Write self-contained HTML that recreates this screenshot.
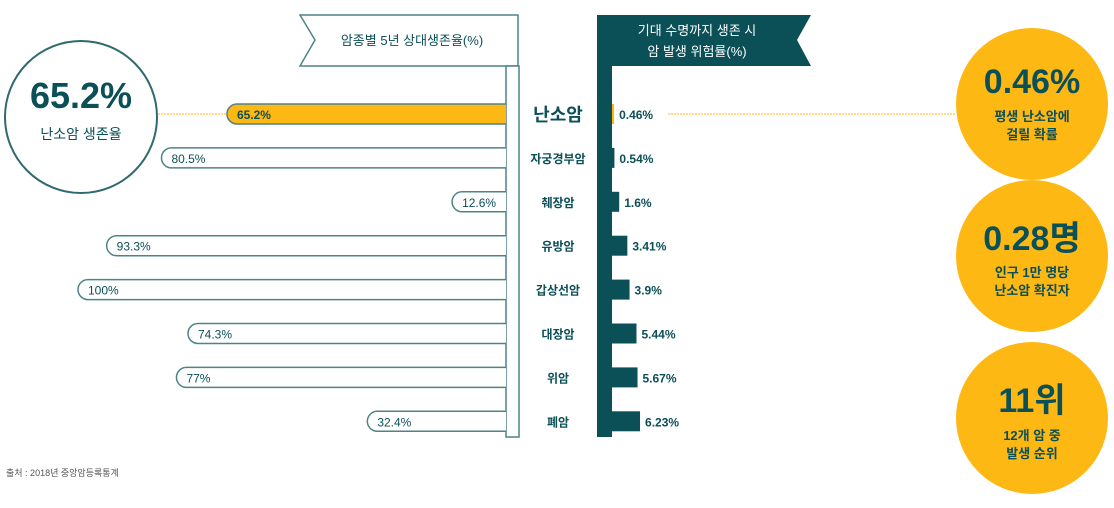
<!DOCTYPE html>
<html><head><meta charset="utf-8">
<style>
body{margin:0;background:#fff;width:1114px;height:503px;overflow:hidden;font-family:"Liberation Sans","Noto Sans CJK KR",sans-serif;}
svg text{font-family:"Liberation Sans","Noto Sans CJK KR",sans-serif;}
</style></head><body>
<svg id="chart" width="1114" height="503" viewBox="0 0 1114 503">
  <g>
    <circle cx="81" cy="117" r="76" fill="#fff" stroke="#2f6a70" stroke-width="2"/>
    <text x="81" y="108" text-anchor="middle" font-size="36" font-weight="bold" fill="#0b4f57">65.2%</text>
    <text x="81" y="139" text-anchor="middle" font-size="14" fill="#0b4f57">난소암 생존율</text>
  </g>
  <line x1="158" y1="114" x2="228" y2="114" stroke="#fdb813" stroke-width="1" stroke-dasharray="2,1"/>
  <g>
    <polygon points="300,15 518,15 518,66 300,66 315,40" fill="#fff" stroke="#4e8388" stroke-width="1.5"/>
    <text x="412" y="45" text-anchor="middle" font-size="13" fill="#0b4f57">암종별 5년 상대생존율(%)</text>
  </g>
  <rect x="506" y="66" width="13" height="371" fill="#fff" stroke="#4e8388" stroke-width="1.5"/>
  <g>
    <polygon points="597,15 811,15 797,40 811,66 597,66" fill="#0b4f57"/>
    <text x="697" y="35" text-anchor="middle" font-size="13" fill="#fff">기대 수명까지 생존 시</text>
    <text x="697" y="56" text-anchor="middle" font-size="13" fill="#fff">암 발생 위험률(%)</text>
  </g>
  <rect x="597" y="66" width="15" height="371" fill="#0b4f57"/>
  <line x1="668" y1="114" x2="955" y2="114" stroke="#fdb813" stroke-width="1" stroke-dasharray="2,1"/>
  <g id="rows"></g>
  <g>
    <circle cx="1032" cy="104" r="76" fill="#fdb813"/>
    <text x="1032" y="93" text-anchor="middle" font-size="34" font-weight="bold" fill="#0b4f57">0.46%</text>
    <text x="1032" y="121" text-anchor="middle" font-size="13" font-weight="bold" fill="#0b4f57">평생 난소암에</text>
    <text x="1032" y="139" text-anchor="middle" font-size="13" font-weight="bold" fill="#0b4f57">걸릴 확률</text>
  </g>
  <g>
    <circle cx="1032" cy="256" r="76" fill="#fdb813"/>
    <text x="1032" y="250" text-anchor="middle" font-size="34" font-weight="bold" fill="#0b4f57">0.28명</text>
    <text x="1032" y="277" text-anchor="middle" font-size="13" font-weight="bold" fill="#0b4f57">인구 1만 명당</text>
    <text x="1032" y="295" text-anchor="middle" font-size="13" font-weight="bold" fill="#0b4f57">난소암 확진자</text>
  </g>
  <g>
    <circle cx="1032" cy="418" r="76" fill="#fdb813"/>
    <text x="1032" y="412" text-anchor="middle" font-size="34" font-weight="bold" fill="#0b4f57">11위</text>
    <text x="1032" y="440" text-anchor="middle" font-size="13" font-weight="bold" fill="#0b4f57">12개 암 중</text>
    <text x="1032" y="458" text-anchor="middle" font-size="13" font-weight="bold" fill="#0b4f57">발생 순위</text>
  </g>
  <text x="6" y="476" font-size="9" fill="#555">출처 : 2018년 중앙암등록통계</text>
</svg>
<script>
const categories=["난소암","자궁경부암","췌장암","유방암","갑상선암","대장암","위암","폐암"];
const survival=[65.2,80.5,12.6,93.3,100,74.3,77,32.4];
const risk=[0.46,0.54,1.6,3.41,3.9,5.44,5.67,6.23];
const survivalLabels=["65.2%","80.5%","12.6%","93.3%","100%","74.3%","77%","32.4%"];
const riskLabels=["0.46%","0.54%","1.6%","3.41%","3.9%","5.44%","5.67%","6.23%"];
const NS="http://www.w3.org/2000/svg";
const g=document.getElementById('rows');
const yPos=i=>114+i*43.9;
const xSurv=v=>506-v*4.28;
const wRisk=v=>v*4.5;
function mk(t,a){const e=document.createElementNS(NS,t);for(const k in a)e.setAttribute(k,a[k]);return e;}
categories.forEach((c,i)=>{
  const y=yPos(i), hi=i===0;
  const x0=xSurv(survival[i]);
  const bar=mk('path',{d:`M506,${y-10} L${x0+10},${y-10} A10,10 0 0 0 ${x0+10},${y+10} L506,${y+10}`,fill:hi?'#fdb813':'#fff',stroke:'#4e8388','stroke-width':1.5});
  
  
  g.appendChild(bar);
  const st=mk('text',{x:x0+10,y:y+5,'font-size':12,fill:'#0b4f57','font-weight':hi?'bold':'normal'});
  st.textContent=survivalLabels[i];
  
  
  g.appendChild(st);
  const ct=mk('text',{x:558,y:y+(hi?7:5),'text-anchor':'middle','font-size':hi?18:12,'font-weight':'bold',fill:'#0b4f57'});
  ct.textContent=c;
  
  
  g.appendChild(ct);
  const w=wRisk(risk[i]);
  const rb=mk('rect',{x:612,y:y-10,width:w,height:20,fill:hi?'#fdb813':'#0b4f57'});
  
  
  g.appendChild(rb);
  const rt=mk('text',{x:612+w+5,y:y+5,'font-size':12,fill:'#0b4f57','font-weight':'bold'});
  rt.textContent=riskLabels[i];
  
  
  g.appendChild(rt);
});
</script>
</body></html>
